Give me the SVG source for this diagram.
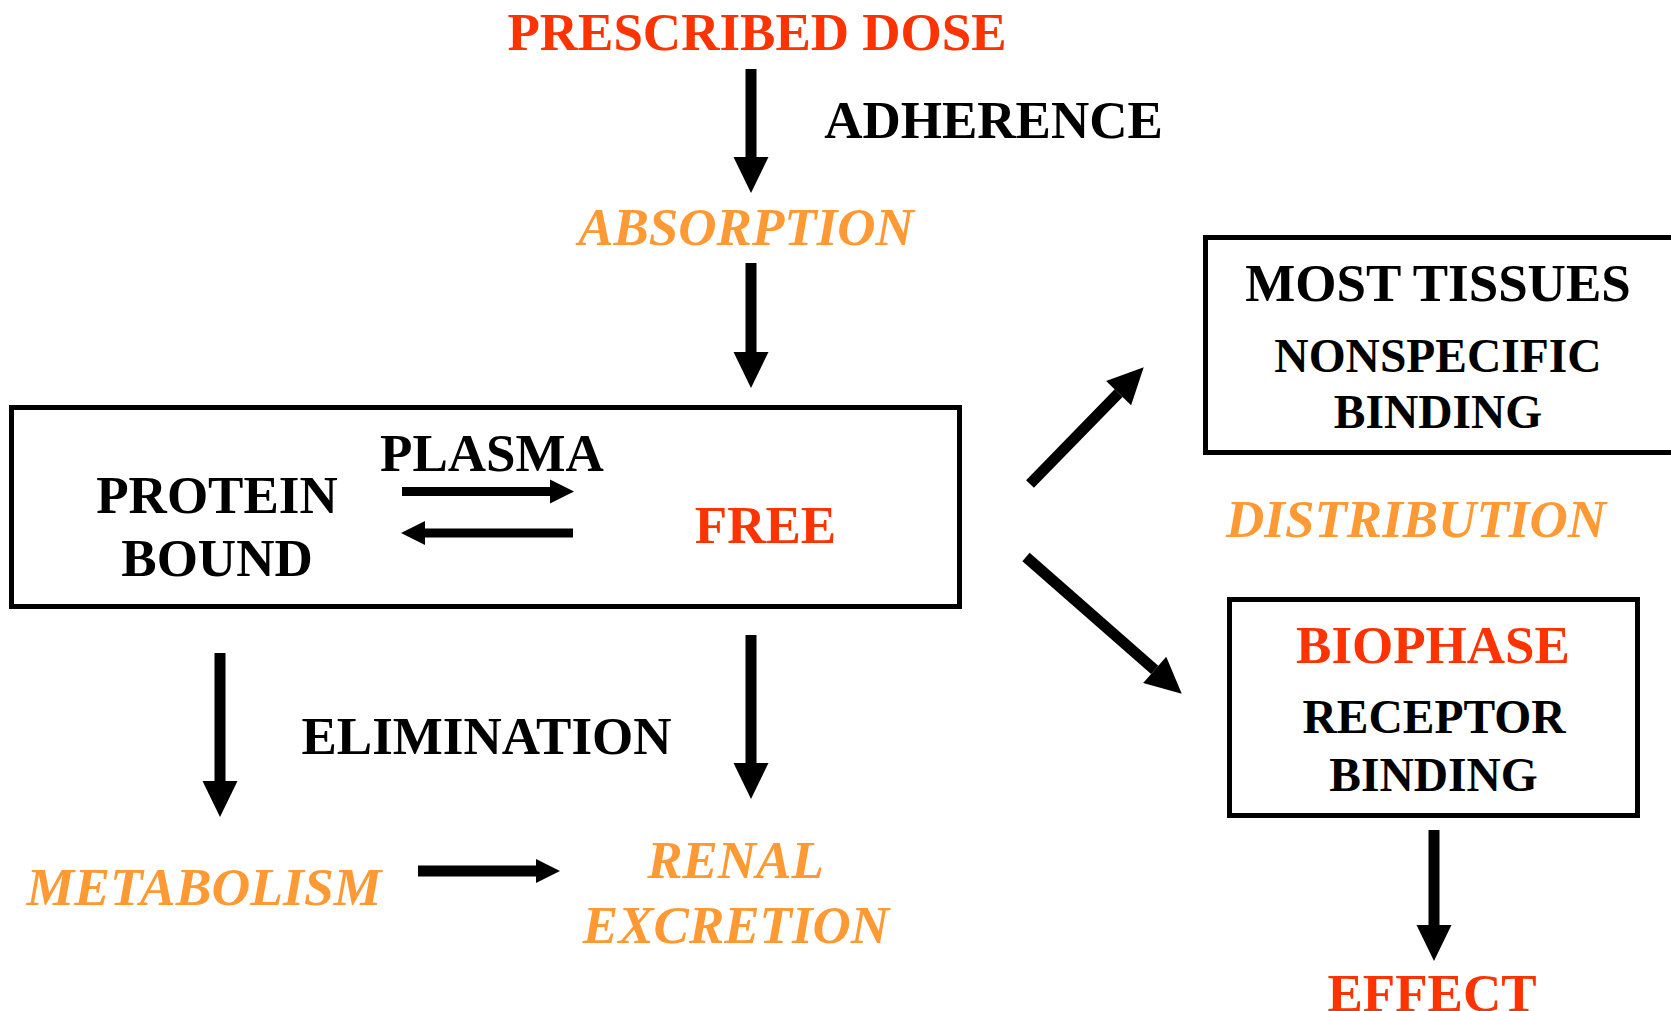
<svg xmlns="http://www.w3.org/2000/svg" width="1671" height="1011" viewBox="0 0 1671 1011">
<style>
text{font-family:"Liberation Serif","Times New Roman",serif;font-weight:bold;font-size:53px;text-anchor:middle;fill:#000}
.red{fill:#FF3300}
.org{fill:#FF9933;font-style:italic}
.sm{font-size:47.5px}
.box{fill:none;stroke:#000;stroke-width:5}
.big{stroke:#000;stroke-width:11;fill:none;marker-end:url(#hb)}
.small{stroke:#000;stroke-width:9;fill:none;marker-end:url(#hs)}
.mid{stroke:#000;stroke-width:11;fill:none;marker-end:url(#hs)}
</style>
<defs>
<marker id="hb" markerUnits="userSpaceOnUse" markerWidth="36" markerHeight="36" refX="0" refY="17.5" orient="auto" overflow="visible"><path d="M0,0 L36,17.5 L0,35 z" fill="#000"/></marker>
<marker id="hs" markerUnits="userSpaceOnUse" markerWidth="24" markerHeight="24" refX="0" refY="12" orient="auto" overflow="visible"><path d="M0,0 L24,12 L0,24 z" fill="#000"/></marker>
</defs>
<rect width="1671" height="1011" fill="#fff"/>
<g id="connectors">
<line class="big" x1="751" y1="69" x2="751" y2="157"/>
<line class="big" x1="751" y1="263" x2="751" y2="352"/>
<line class="small" x1="402" y1="491.5" x2="550" y2="491.5"/>
<line class="small" x1="573" y1="533" x2="425" y2="533"/>
<line class="big" x1="1030" y1="484" x2="1118.6" y2="393.1"/>
<line class="big" x1="1026" y1="557" x2="1154.7" y2="669.9"/>
<line class="big" x1="220" y1="653" x2="220" y2="781"/>
<line class="big" x1="751" y1="635" x2="751" y2="763"/>
<line class="mid" x1="418" y1="871" x2="536" y2="871"/>
<line class="big" x1="1434" y1="830" x2="1434" y2="925"/>
</g>
<g id="prescribed-dose"><text class="red" x="757" y="49.5">PRESCRIBED DOSE</text></g>
<g id="adherence"><text x="993.5" y="138">ADHERENCE</text></g>
<g id="absorption"><text class="org" x="746" y="245">ABSORPTION</text></g>
<g id="plasma">
<rect class="box" x="11.5" y="407.5" width="948" height="199"/>
<text x="492" y="471">PLASMA</text>
<text x="217" y="513">PROTEIN</text>
<text x="217" y="576">BOUND</text>
<text class="red" x="765.5" y="543">FREE</text>
</g>
<g id="most-tissues">
<rect class="box" x="1205.5" y="237.5" width="1463" height="215"/>
<text x="1438" y="301">MOST TISSUES</text>
<text class="sm" x="1438" y="372">NONSPECIFIC</text>
<text class="sm" x="1438" y="428">BINDING</text>
</g>
<g id="distribution"><text class="org" x="1416" y="537">DISTRIBUTION</text></g>
<g id="biophase">
<rect class="box" x="1229.5" y="599.5" width="408" height="216"/>
<text class="red" x="1433" y="663">BIOPHASE</text>
<text class="sm" x="1434" y="733">RECEPTOR</text>
<text class="sm" x="1433.5" y="791">BINDING</text>
</g>
<g id="effect"><text class="red" x="1432" y="1011">EFFECT</text></g>
<g id="elimination"><text x="486.5" y="754">ELIMINATION</text></g>
<g id="metabolism"><text class="org" x="204" y="905" textLength="355" lengthAdjust="spacingAndGlyphs">METABOLISM</text></g>
<g id="renal-excretion">
<text class="org" x="735.5" y="878">RENAL</text>
<text class="org" x="736" y="943">EXCRETION</text>
</g>
</svg>
